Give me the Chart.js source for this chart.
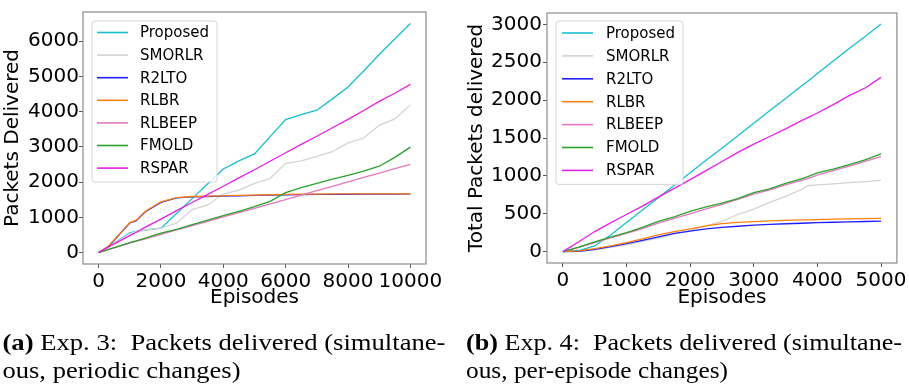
<!DOCTYPE html>
<html>
<head>
<meta charset="utf-8">
<script src="https://cdn.jsdelivr.net/npm/chart.js@4.4.1/dist/chart.umd.min.js"></script>
<style>
  html, body { margin: 0; padding: 0; background: #fff; }
  body { width: 909px; height: 387px; position: relative; overflow: hidden; }
  canvas { position: absolute; top: 0; }
  #ca { left: 0; }
  #cb { left: 455px; }
  svg { position: absolute; left: 0; top: 0; }
  .cap { font-family: 'Liberation Serif'; font-size: 24px; fill: #000; white-space: pre; }
</style>
</head>
<body>
<canvas id="ca" width="455" height="310"></canvas>
<canvas id="cb" width="454" height="310"></canvas>
<svg width="909" height="387">
  <text class="cap" x="2.5" y="350" textLength="443" lengthAdjust="spacingAndGlyphs"><tspan font-weight="bold">(a)</tspan> Exp. 3:  Packets delivered (simultane-</text>
  <text class="cap" x="2.5" y="378" textLength="238" lengthAdjust="spacingAndGlyphs">ous, periodic changes)</text>
  <text class="cap" x="466" y="350" textLength="436" lengthAdjust="spacingAndGlyphs"><tspan font-weight="bold">(b)</tspan> Exp. 4:  Packets delivered (simultane-</text>
  <text class="cap" x="466" y="378" textLength="262" lengthAdjust="spacingAndGlyphs">ous, per-episode changes)</text>
</svg>
<script>
// ---------- Data: Exp. 3 (left) ----------
const seriesNames = ["Proposed", "SMORLR", "R2LTO", "RLBR", "RLBEEP", "FMOLD", "RSPAR"];
const seriesColors = ["#17becf", "#d3d3d3", "#1f1fff", "#ff7f0e", "#e377c2", "#2ca02c", "#e61ee6"];

const episodesA = [0, 300, 500, 1000, 1200, 1500, 2000, 2500, 3000, 3500, 4000, 4500, 5000, 5500, 6000, 6500, 7000, 7500, 8000, 8500, 9000, 9500, 10000];
const proposedA = [0, 150, 270, 560, 600, 640, 690, 1110, 1530, 1950, 2370, 2600, 2800, 3290, 3770, 3910, 4040, 4360, 4700, 5150, 5620, 6060, 6500];
const smorlrA   = [0, 150, 260, 540, 590, 640, 690, 830, 1220, 1350, 1660, 1770, 1960, 2100, 2530, 2600, 2730, 2860, 3110, 3250, 3610, 3790, 4190];
const r2ltoA    = [0, 160, 350, 840, 900, 1160, 1420, 1550, 1580, 1590, 1600, 1610, 1620, 1630, 1640, 1645, 1650, 1652, 1654, 1656, 1658, 1660, 1662];
const rlbrA     = [0, 170, 360, 850, 910, 1170, 1440, 1560, 1590, 1600, 1610, 1620, 1630, 1640, 1650, 1655, 1660, 1662, 1664, 1665, 1666, 1667, 1668];
const rlbeepA   = [0, 80, 135, 265, 315, 390, 515, 640, 765, 885, 1010, 1130, 1255, 1380, 1505, 1630, 1755, 1880, 2005, 2130, 2255, 2380, 2505];
const fmoldA    = [0, 85, 140, 280, 330, 410, 550, 660, 790, 920, 1050, 1170, 1300, 1450, 1700, 1840, 1960, 2080, 2190, 2310, 2450, 2700, 2990];
const rsparA    = [0, 150, 245, 480, 570, 720, 950, 1190, 1420, 1650, 1880, 2120, 2350, 2590, 2830, 3070, 3300, 3540, 3780, 4030, 4290, 4520, 4770];
const xTicksA = [0, 2000, 4000, 6000, 8000, 10000];
const yTicksA = [0, 1000, 2000, 3000, 4000, 5000, 6000];

// ---------- Data: Exp. 4 (right) ----------
const episodesB = [0, 250, 500, 750, 1000, 1250, 1500, 1750, 2000, 2250, 2500, 2750, 3000, 3250, 3500, 3750, 3850, 4000, 4250, 4500, 4750, 5000];
const proposedB = [0, 15, 75, 220, 385, 550, 710, 875, 1040, 1205, 1365, 1530, 1695, 1860, 2020, 2185, 2250, 2350, 2515, 2680, 2840, 3005];
const smorlrB   = [0, 5, 25, 55, 90, 135, 180, 230, 280, 340, 400, 490, 560, 650, 730, 820, 870, 880, 895, 910, 925, 940];
const r2ltoB    = [0, 5, 30, 65, 105, 150, 195, 240, 270, 300, 320, 335, 350, 360, 368, 375, 378, 382, 388, 393, 398, 402];
const rlbrB     = [0, 10, 40, 75, 120, 170, 220, 265, 300, 340, 370, 385, 395, 405, 412, 418, 420, 423, 428, 432, 436, 440];
const rlbeepB   = [0, 55, 120, 180, 240, 305, 375, 440, 500, 565, 625, 690, 760, 815, 880, 940, 965, 1010, 1070, 1130, 1190, 1255];
const fmoldB    = [0, 60, 130, 190, 250, 320, 400, 460, 530, 590, 640, 700, 780, 830, 900, 960, 990, 1040, 1090, 1150, 1210, 1290];
const rsparB    = [0, 130, 265, 380, 490, 600, 720, 835, 950, 1070, 1190, 1310, 1420, 1520, 1620, 1730, 1770, 1830, 1940, 2060, 2160, 2300];
const xTicksB = [0, 1000, 2000, 3000, 4000, 5000];
const yTicksB = [0, 500, 1000, 1500, 2000, 2500, 3000];

// ---------- helpers ----------
function makeDatasets(xs, ys) {
  return ys.map((vals, i) => ({
    label: seriesNames[i],
    data: xs.map((x, j) => ({ x: x, y: vals[j] })),
    borderColor: seriesColors[i],
    backgroundColor: seriesColors[i],
    borderWidth: 1.3,
    pointRadius: 0,
    tension: 0,
    fill: false,
    order: ys.length - i   // later series drawn on top, as in matplotlib
  }));
}

const framePlugin = {
  id: 'frame',
  afterDatasetsDraw(chart) {
    const a = chart.chartArea, c = chart.ctx;
    c.save();
    c.strokeStyle = '#8a8a8a';
    c.lineWidth = 1.2;
    c.strokeRect(a.left, a.top, a.right - a.left, a.bottom - a.top);
    c.restore();
  }
};

const legendPlugin = {
  id: 'mplLegend',
  afterDraw(chart, args, opts) {
    const a = chart.chartArea, c = chart.ctx;
    const x0 = a.left + opts.dx, y0 = a.top + opts.dy;
    const ds = chart.data.datasets;
    c.save();
    c.font = opts.fontSize + 'px "DejaVu Sans"';
    const w = opts.width;
    const h = opts.padT + (ds.length - 1) * opts.rowH + opts.padB;
    const r = 3;
    c.beginPath();
    c.moveTo(x0 + r, y0);
    c.arcTo(x0 + w, y0, x0 + w, y0 + h, r);
    c.arcTo(x0 + w, y0 + h, x0, y0 + h, r);
    c.arcTo(x0, y0 + h, x0, y0, r);
    c.arcTo(x0, y0, x0 + w, y0, r);
    c.closePath();
    c.fillStyle = 'rgba(255,255,255,0.85)';
    c.fill();
    c.strokeStyle = '#d6d6d6';
    c.lineWidth = 1;
    c.stroke();
    c.textBaseline = 'middle';
    c.textAlign = 'left';
    ds.forEach((d, i) => {
      const cy = y0 + opts.padT + i * opts.rowH;
      c.strokeStyle = d.borderColor;
      c.lineWidth = 1.6;
      c.beginPath();
      c.moveTo(x0 + opts.padL, cy);
      c.lineTo(x0 + opts.padL + opts.lineLen, cy);
      c.stroke();
      c.fillStyle = '#000';
      c.fillText(d.label, x0 + opts.padL + opts.lineLen + opts.gap, cy + 1);
    });
    c.restore();
  }
};

Chart.defaults.color = '#000';
Chart.defaults.font.family = '"DejaVu Sans"';

function makeChart(id, xs, ys, cfg) {
  return new Chart(document.getElementById(id), {
    type: 'line',
    data: { datasets: makeDatasets(xs, ys) },
    plugins: [framePlugin, legendPlugin],
    options: {
      responsive: false,
      animation: false,
      devicePixelRatio: 1,
      layout: { padding: cfg.padding },
      plugins: {
        legend: { display: false },
        tooltip: { enabled: false },
        mplLegend: cfg.legend
      },
      scales: {
        x: {
          type: 'linear',
          min: cfg.xMin, max: cfg.xMax,
          afterBuildTicks: s => { s.ticks = cfg.xTicks.map(v => ({ value: v })); },
          afterFit: s => { s.height = cfg.xHeight; },
          border: { display: false },
          grid: { drawOnChartArea: false, drawTicks: true, tickLength: 4, color: '#555', lineWidth: 1 },
          ticks: { font: { size: 20 }, padding: 2, autoSkip: false, maxRotation: 0, color: '#000', callback: v => String(v) },
          title: { display: true, text: 'Episodes', font: { size: 20 }, padding: { top: 0, bottom: 0 }, color: '#000' }
        },
        y: {
          type: 'linear',
          min: cfg.yMin, max: cfg.yMax,
          afterBuildTicks: s => { s.ticks = cfg.yTicks.map(v => ({ value: v })); },
          afterFit: s => { s.width = cfg.yWidth; },
          border: { display: false },
          grid: { drawOnChartArea: false, drawTicks: true, tickLength: 4, color: '#555', lineWidth: 1 },
          ticks: { font: { size: 20 }, padding: cfg.yTickPad, autoSkip: false, color: '#000', callback: v => String(v) },
          title: { display: true, text: cfg.yTitle, font: { size: 20 }, padding: { top: cfg.yTitlePad, bottom: 0 }, color: '#000' }
        }
      }
    }
  });
}

makeChart('ca', episodesA, [proposedA, smorlrA, r2ltoA, rlbrA, rlbeepA, fmoldA, rsparA], {
  padding: { left: 0, right: 29, top: 7, bottom: 0 },
  xMin: -500, xMax: 10500, yMin: -325, yMax: 6825,
  xTicks: xTicksA, yTicks: yTicksA,
  xHeight: 46, yWidth: 83, yTickPad: 0, yTitlePad: 1,
  yTitle: 'Packets Delivered',
  legend: { dx: 9, dy: 9, width: 125, fontSize: 15, rowH: 22.6, padT: 11.5, padB: 14, padL: 5, lineLen: 31, gap: 12 }
});

makeChart('cb', episodesB, [proposedB, smorlrB, r2ltoB, rlbrB, rlbeepB, fmoldB, rsparB], {
  padding: { left: 0, right: 12, top: 4, bottom: 0 },
  xMin: -250, xMax: 5250, yMin: -150, yMax: 3150,
  xTicks: xTicksB, yTicks: yTicksB,
  xHeight: 47, yWidth: 92, yTickPad: 1, yTitlePad: 10,
  yTitle: 'Total Packets delivered',
  legend: { dx: 9, dy: 8, width: 127, fontSize: 15, rowH: 22.9, padT: 12, padB: 14, padL: 6, lineLen: 31, gap: 13 }
});
</script>
</body>
</html>
